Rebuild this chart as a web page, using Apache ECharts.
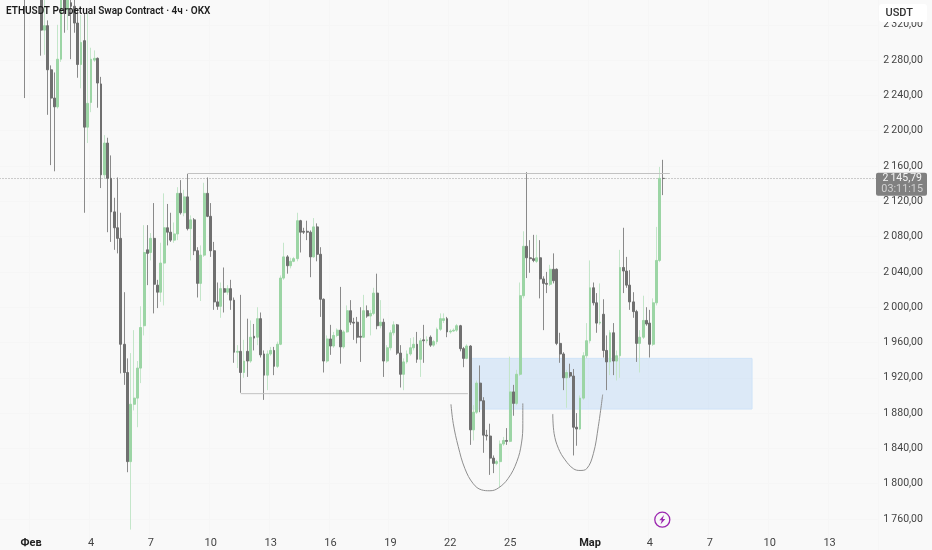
<!DOCTYPE html>
<html><head><meta charset="utf-8">
<style>html,body{margin:0;padding:0;background:#f9f9f9}#c{width:932px;height:550px}</style>
<script src="https://cdn.jsdelivr.net/npm/echarts@6/dist/echarts.min.js"></script>
</head><body><div id="c"></div>
<script>
const slotCount = 264;
const firstCandle = 7;
const tickSlots = [9,27,45,63,81,99,117,135,153,177,195,213,231,249];
const tickLabels = ['Фев','4','7','10','13','16','19','22','25','Мар','4','7','10','13'];
const opens = [2420,2395,2410,2400,2380,2395,2314,2319,2269,2237,
2227,2281,2350,2337,2345,2341,2322,2275,2302,2204,
2232,2280,2282,2253,2150,2186,2146,2108,2090,2078,
1958,1926,1825,1890,1897,1931,1979,2065,2062,2078,
2025,2017,2050,2090,2085,2076,2083,2129,2107,2125,
2089,2099,2064,2027,2059,2129,2103,2064,2006,2001,
2021,2017,2021,2008,1949,1950,1926,1950,1939,1967,
1966,1987,1947,1923,1947,1951,1933,1958,2033,2057,
2047,2052,2055,2098,2086,2086,2085,2057,2091,2060,
2009,1939,1964,1956,1968,1974,1955,1972,1996,1983,
1983,1967,1966,1996,1990,1993,2016,1979,1983,1939,
1954,1971,1980,1948,1924,1938,1947,1954,1958,1941,
1963,1962,1966,1957,1961,1975,1985,1987,1972,1973,
1974,1979,1953,1942,1956,1861,1881,1914,1894,1855,
1854,1829,1823,1825,1845,1849,1848,1904,1891,1924,
2013,2069,2056,2055,2052,2056,2032,2027,2026,2043,
2043,1959,1947,1920,1926,1922,1864,1862,1897,1945,
1962,2022,2005,1982,1992,1951,1938,1971,1939,1945,
2045,2041,2025,2006,1995,1959,1966,1985,1982,1958,
2005,2053,2146];
const closes = [2390,2410,2400,2380,2395,2314,2319,2269,2237,2227,
2281,2352,2333,2350,2341,2322,2275,2300,2204,2231,
2281,2282,2254,2150,2186,2146,2108,2090,2078,1958,
1926,1825,1890,1897,1931,1977,2062,2061,2078,2026,
2017,2050,2090,2085,2076,2083,2129,2107,2125,2089,
2099,2064,2027,2059,2129,2103,2064,2006,2001,2021,
2017,2021,2008,1949,1950,1926,1939,1939,1966,1965,
1987,1946,1923,1947,1951,1933,1958,2033,2057,2047,
2052,2055,2098,2085,2085,2085,2057,2091,2060,2009,
1939,1964,1956,1968,1974,1955,1972,1996,1983,1982,
1966,1966,1996,1990,1993,2016,1979,1983,1939,1954,
1971,1980,1948,1924,1938,1947,1954,1958,1941,1962,
1962,1963,1957,1961,1975,1987,1987,1972,1973,1974,
1979,1953,1942,1956,1861,1881,1914,1894,1855,1854,
1829,1823,1825,1845,1849,1848,1904,1891,1924,2013,
2069,2056,2055,2053,2056,2032,2027,2026,2043,2030,
1959,1947,1920,1926,1922,1864,1862,1897,1945,1962,
2022,2005,1982,1983,1951,1938,1971,1939,1945,2045,
2041,2025,2006,1995,1959,1966,1985,1981,1958,2005,
2053,2146,2145.79];
const lows = [2237,2380,2385,2372,2370,2285,2286,2218,2161,2154,
2225,2278,2311,2314,2281,2311,2260,2248,2107,2186,
2221,2278,2226,2135,2146,2085,2074,2065,2061,1925,
1912,1813,1748,1883,1864,1914,1968,2025,2053,1993,
1999,2006,2002,2070,2074,2073,2076,2105,2103,2087,
2053,2059,2011,2007,2057,2102,2057,1997,1997,1988,
1994,2014,1997,1937,1931,1903,1920,1921,1937,1951,
1957,1943,1895,1906,1945,1923,1931,1957,2031,2038,
2044,2051,2052,2062,2083,2076,2034,2056,2052,1989,
1926,1937,1946,1954,1966,1936,1953,1971,1980,1963,
1959,1938,1965,1988,1968,1991,1975,1976,1921,1937,
1951,1968,1946,1909,1906,1936,1945,1951,1937,1921,
1937,1959,1955,1955,1958,1973,1982,1966,1970,1972,
1972,1950,1932,1941,1844,1849,1879,1881,1835,1849,
1810,1812,1821,1796,1843,1844,1847,1877,1889,1922,
2010,2033,2039,2051,2050,2010,1974,2016,2024,2027,
1957,1937,1906,1886,1920,1832,1843,1861,1895,1942,
1959,2002,1971,1980,1943,1906,1923,1923,1917,1920,
2016,2022,1997,1988,1938,1926,1964,1979,1943,1956,
2002,2051,2127];
const highs = [2430,2420,2425,2415,2405,2400,2350,2325,2274,2266,
2320,2360,2365,2355,2355,2358,2337,2331,2333,2333,
2294,2291,2283,2261,2195,2192,2172,2124,2147,2107,
2017,1942,1948,1974,1939,2001,2093,2093,2084,2118,
2031,2073,2129,2117,2107,2096,2136,2144,2133,2151,
2104,2101,2068,2070,2141,2147,2118,2074,2028,2028,
2045,2025,2031,2011,1957,2014,1963,1987,1985,1981,
2000,1994,1951,1951,1955,1955,1961,2036,2073,2059,
2056,2057,2107,2099,2090,2098,2087,2101,2095,2068,
2010,1968,1980,1972,1976,2023,1974,2002,2008,1988,
1989,2000,2014,2002,1997,2022,2038,2008,1987,1957,
1974,1984,1981,1957,1942,1951,1965,1966,1972,1965,
1980,1967,1968,1963,1977,1993,1993,1989,1975,1976,
1981,1980,1955,1958,1957,1889,1917,1934,1898,1861,
1868,1832,1827,1849,1853,1863,1944,1912,1929,2028,
2086,2153,2076,2082,2082,2076,2035,2040,2048,2061,
2044,1971,1949,1929,1936,1930,1880,1900,1949,1982,
2053,2028,2016,2027,2009,1968,1974,1982,1951,2065,
2090,2057,2042,2017,1997,1974,2013,2000,1997,2010,
2091,2159,2167];
const lastPrice = 2145.79;
const countdown = '03:11:15';
const resistance = [[56.5,2151.5],[201.5,2151.5]];
const support = [[72.5,1902],[140.8,1902]];
const zoneSlots = [141.4,226.2];
const zonePrices = [1942,1884.6];
const curveOne = [[135.7,1890],[136.4,1868],[137.9,1842],[139.9,1817],[142.4,1800],[144.9,1793],[147.4,1792],[149.9,1795],[152.9,1806],[155.5,1825],[156.9,1846],[157.3,1868],[157.3,1891]];
const curveTwo = [[166.3,1879],[166.7,1857],[168,1840],[170,1827],[172.5,1817],[174.5,1815],[176.5,1817],[178.5,1834],[180,1865],[181.3,1901]];

const categories = [];
for (let i = 0; i < slotCount; i++) categories.push('s' + i);
const empty = ['-', '-', '-', '-'];
const wickData = categories.map((_, i) => {
  const j = i - firstCandle;
  return (j < 0 || j >= opens.length) ? empty : [opens[j], closes[j], lows[j], highs[j]];
});
const bodyData = categories.map((_, i) => {
  const j = i - firstCandle;
  return (j < 0 || j >= opens.length) ? empty :
    [opens[j], closes[j], Math.min(opens[j], closes[j]), Math.max(opens[j], closes[j])];
});
const fmtPrice = v => {
  const s = v.toFixed(2).replace('.', ',');
  return s.length > 6 ? s[0] + '\u2009' + s.slice(1) : s;
};
const FONT = 'Roboto, "Noto Sans", sans-serif';
const overlay = (data, extra) => Object.assign({
  type: 'line', xAxisIndex: 1, yAxisIndex: 0, data, showSymbol: false, symbol: 'none',
  silent: true, animation: false, z: 3, lineStyle: { color: '#c2c2c2', width: 1 }
}, extra);

const chart = echarts.init(document.getElementById('c'), null, { renderer: 'canvas' });
chart.setOption({
  animation: false,
  backgroundColor: '#f9f9f9',
  title: { text: 'ETHUSDT Perpetual Swap Contract · 4ч · OKX', left: 6, top: 6, padding: 0,
    textStyle: { fontFamily: FONT, fontSize: 10, fontWeight: 600, color: '#1c1c1c' } },
  grid: { left: -0.5, top: -10.5, width: 878.3, height: 564.8, outerBoundsMode: 'none' },
  xAxis: [
    { type: 'category', data: categories, position: 'bottom', offset: -20,
      axisLine: { show: false }, axisTick: { show: false },
      splitLine: { show: true, interval: i => tickSlots.includes(i), lineStyle: { color: '#f6f6f6', width: 1 } },
      axisLabel: { interval: i => tickSlots.includes(i), margin: 3.5, fontFamily: FONT, fontSize: 11, color: '#444',
        formatter: (v, i) => { const t = tickLabels[tickSlots.indexOf(i)]; return (t === 'Фев' || t === 'Мар') ? '{b|' + t + '}' : t; },
        rich: { b: { fontFamily: FONT, fontSize: 11, fontWeight: 700, color: '#222' } } } },
    { type: 'value', min: 0, max: slotCount, show: false, splitLine: { show: false } }
  ],
  yAxis: { type: 'value', position: 'right', min: 1720, max: 2360, interval: 40,
    axisLine: { show: false }, axisTick: { show: false },
    splitLine: { show: true, lineStyle: { color: '#f6f6f6', width: 1 } },
    axisLabel: { margin: 5.5, showMinLabel: false, fontFamily: FONT, fontSize: 10.5, color: '#444', formatter: v => fmtPrice(v) } },
  series: [
    overlay([[0, lastPrice],[slotCount, lastPrice]], {
      z: 1, lineStyle: { color: '#9a9a9a', width: 1, type: [1, 2] },
      markArea: { silent: true, itemStyle: { color: 'rgba(183,213,245,0.45)', borderColor: '#cfe3f8', borderWidth: 1 },
        data: [[{ coord: [zoneSlots[0], zonePrices[0]] }, { coord: [zoneSlots[1], zonePrices[1]] }]] }
    }),
    { type: 'candlestick', xAxisIndex: 0, yAxisIndex: 0, data: wickData, barWidth: 1, z: 2,
      itemStyle: { color: '#c4e6ca', color0: '#8a8a8a', borderColor: '#c4e6ca', borderColor0: '#8a8a8a', borderWidth: 1 } },
    { type: 'candlestick', xAxisIndex: 0, yAxisIndex: 0, data: bodyData, barWidth: 2.4, z: 2,
      itemStyle: { color: '#9cd5a5', color0: '#707070', borderColor: '#9cd5a5', borderColor0: '#707070', borderWidth: 1 } },
    overlay(resistance), overlay(support),
    overlay(curveOne, { smooth: 0.4, lineStyle: { color: '#8f8f8f', width: 1 } }),
    overlay(curveTwo, { smooth: 0.4, lineStyle: { color: '#8f8f8f', width: 1 } })
  ],
  graphic: [
    { type: 'rect', z: 100, shape: { x: 879, y: 4, width: 48, height: 18, r: 3 }, style: { fill: '#ffffff' } },
    { type: 'text', z: 101, x: 885.5, y: 13, style: { text: 'USDT', fontFamily: FONT, fontSize: 11, fontWeight: 500, fill: '#333', verticalAlign: 'middle' } },
    { type: 'rect', z: 100, shape: { x: 876, y: 172.7, width: 51, height: 23, r: 2 }, style: { fill: '#808080' } },
    { type: 'text', z: 101, x: 922, y: 178.5, style: { text: fmtPrice(lastPrice), fontFamily: FONT, fontSize: 10.5, fill: '#f4f4f4', align: 'right', verticalAlign: 'middle' } },
    { type: 'text', z: 101, x: 923, y: 189.5, style: { text: countdown, fontFamily: FONT, fontSize: 10.8, fill: '#d0d0d0', align: 'right', verticalAlign: 'middle' } },
    { type: 'circle', z: 100, shape: { cx: 662.3, cy: 519.7, r: 7.5 }, style: { fill: '#f9f9f9', stroke: '#9c27b0', lineWidth: 1.3 } },
    { type: 'polygon', z: 101, shape: { points: [[664,515],[659.3,520.3],[661.8,520.3],[660.5,524.5],[665.3,519],[662.8,519]] }, style: { fill: '#9c27b0' } }
  ]
});
</script></body></html>
